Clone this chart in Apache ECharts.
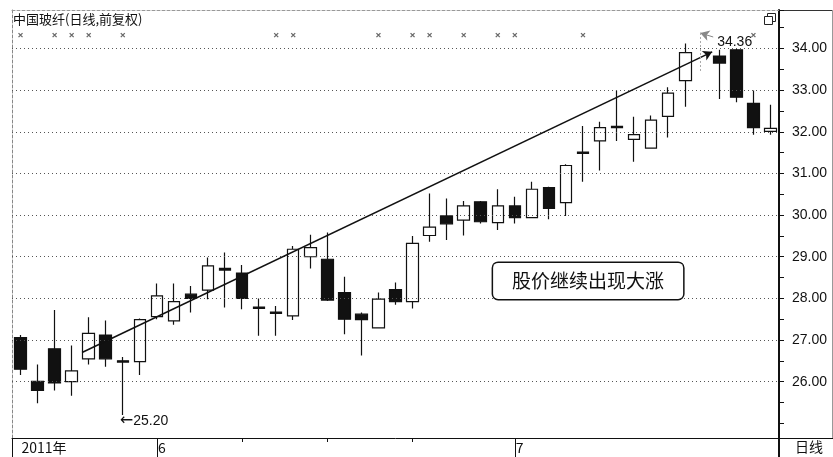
<!DOCTYPE html>
<html><head><meta charset="utf-8">
<script src="https://cdn.jsdelivr.net/npm/echarts@6/dist/echarts.min.js"></script>
<style>html,body{margin:0;padding:0;background:#fff}#c{width:833px;height:457px}</style>
</head><body><div id="c"></div>
<script>
// ---- data ----
const dates = ['05-20','05-23','05-24','05-25','05-26','05-27','05-30','05-31',
  '06-01','06-02','06-03','06-07','06-08','06-09','06-10','06-13','06-14','06-15','06-16','06-17',
  '06-20','06-21','06-22','06-23','06-24','06-27','06-28','06-29','06-30',
  '07-01','07-04','07-05','07-06','07-07','07-08','07-11','07-12','07-13','07-14','07-15',
  '07-18','07-19','07-20','07-21','07-22'];
const opens  = [27.06,26.01,26.79,26.00,26.55,27.12,26.50,26.48, 27.56,27.46,28.10,28.20,28.72,28.61,27.79,27.67,27.58,29.00,28.94,28.14,27.62,27.29,28.21,27.92,29.51,29.98,29.88,30.32,29.82, 30.22,29.94,30.66,30.30,31.51,31.78,32.13,31.82,31.61,32.37,33.23,'-',33.82,33.97,32.68,32.01];
const closes = [26.30,25.79,25.97,26.26,27.16,26.55,26.47,27.49, 28.06,27.92,28.00,28.78,28.68,28.00,27.76,27.64,29.18,29.22,27.96,27.50,27.49,27.98,27.92,29.32,29.71,29.79,30.22,29.84,30.22, 29.94,30.62,30.16,31.19,31.48,32.10,32.10,31.93,32.28,32.93,33.90,'-',33.65,32.83,32.10,32.08];
const lows   = [26.16,25.48,25.79,25.66,26.41,26.36,25.20,26.16, 27.50,27.37,27.66,27.98,27.78,27.74,27.10,27.10,27.48,28.72,27.94,27.14,26.63,27.28,27.85,27.76,29.36,29.40,29.51,29.80,29.64, 29.80,29.93,29.90,29.98,30.80,31.07,31.78,31.28,31.60,31.86,32.60,'-',32.79,32.71,31.93,31.93];
const highs  = [27.12,26.41,27.72,26.87,27.55,27.47,26.59,27.52, 28.36,28.36,28.30,28.98,29.10,28.80,28.00,27.82,29.26,29.53,29.58,28.52,27.66,28.14,28.38,29.50,30.52,30.40,30.34,30.34,30.62, 30.44,30.80,30.68,31.22,32.14,32.24,32.99,32.36,32.39,33.07,34.12,'-',33.97,33.99,32.99,32.65];
const yTicks = [26,27,28,29,30,31,32,33,34];
const monthLabels = {0:'2011年', 8:'6', 29:'7'};
const weekTickIdx = [13,18,23];
const markerIdx = [0,2,3,4,6,15,16,21,23,24,26,28,29,33,43];
const markerLevel = 34.32;
const lowText = '25.20', lowIdx = 6, lowValue = 25.20;
const highLabel = '34.36';
const noteText = '股价继续出现大涨';
const trendStart = [3.61, 26.70], trendEnd = [40.58, 33.92];

// ---- chart ----
const FONT = '"Liberation Sans", Arial, sans-serif';
const CJK = '"Noto Sans CJK SC", "Noto Sans", sans-serif';
const Y_MIN = 24.648, Y_MAX = 34.924;
const candleData = opens.map((o,i)=> o==='-' ? '-' : [o, closes[i], lows[i], highs[i]]);
const chart = echarts.init(document.getElementById('c'));
const X_PATH = 'path://M0,0L10,10M10,0L0,10';
const option = {
  animation:false,
  backgroundColor:'#fff',
  title:{text:'中国玻纤(日线,前复权)', left:13, top:13, padding:0,
    textStyle:{fontFamily:CJK, fontSize:13, fontWeight:'normal', color:'#111'}},
  grid:{left:12, right:54, top:10, bottom:19},
  xAxis:[
    {type:'category', data:dates, position:'bottom', boundaryGap:true,
     axisLine:{show:true, onZero:false, lineStyle:{color:'#111', width:1}},
     axisTick:{show:true, alignWithLabel:true, length:19, interval:(i)=> (i in monthLabels) && i>0, lineStyle:{color:'#111'}},
     axisLabel:{show:true, interval:(i)=> (i in monthLabels), formatter:(v,i)=> monthLabels[i]||'',
       align:'left', margin:3, fontFamily:CJK, fontSize:14, color:'#111', padding:[0,0,0,1]},
     splitLine:{show:false}},
    {type:'value', min:-0.5, max:44.5, position:'top',
     axisLine:{show:true, onZero:false, lineStyle:{color:'#999', type:[3,2]}},
     axisTick:{show:false}, axisLabel:{show:false}, splitLine:{show:false}},
    {type:'category', data:dates, position:'bottom', boundaryGap:true,
     axisLine:{show:false, onZero:false},
     axisTick:{show:true, alignWithLabel:true, length:4, interval:(i)=> weekTickIdx.includes(i), lineStyle:{color:'#111'}},
     axisLabel:{show:false}, splitLine:{show:false}}
  ],
  yAxis:[
    {type:'value', position:'right', min:Y_MIN, max:Y_MAX, splitNumber:10,
     axisLine:{show:true, onZero:false, lineStyle:{color:'#111', width:2}},
     axisTick:{show:true, length:5, lineStyle:{color:'#111'}},
     minorTick:{show:true, splitNumber:2, length:5, lineStyle:{color:'#111'}},
     axisLabel:{margin:13, fontFamily:FONT, fontSize:14, color:'#111', showMinLabel:false, showMaxLabel:false,
       formatter:(v)=> yTicks.includes(Math.round(v*100)/100) ? v.toFixed(2) : ''},
     splitLine:{show:false}},
    {type:'value', position:'left', min:Y_MIN, max:Y_MAX,
     axisLine:{show:true, onZero:false, lineStyle:{color:'#888', type:[3,2]}},
     axisTick:{show:false}, axisLabel:{show:false}, splitLine:{show:false}}
  ],
  series:[
    {type:'line', xAxisIndex:0, yAxisIndex:0, data:[], z:1, silent:true,
     markLine:{silent:true, symbol:'none', label:{show:false},
       lineStyle:{color:'#555', type:[1,3], width:1},
       data: yTicks.map(v=>({yAxis:v}))}},
    {type:'candlestick', xAxisIndex:0, yAxisIndex:0, data:candleData, barWidth:12, z:3,
     itemStyle:{color:'#fff', color0:'#111', borderColor:'#111', borderColor0:'#111', borderWidth:1.2},
     markPoint:{silent:true, symbol:'circle', symbolSize:0,
       data:[{coord:[lowIdx, lowValue], value:lowValue,
         label:{show:true, position:'right', distance:0, offset:[-3,6], formatter:'{a|←}{t|'+lowText+'}',
           rich:{a:{fontFamily:'"DejaVu Sans"', fontSize:16, color:'#111'},
                 t:{fontFamily:FONT, fontSize:14, color:'#111'}}}}]}},
    {type:'scatter', xAxisIndex:0, yAxisIndex:0, z:3, silent:true,
     data: markerIdx.map(i=>[i, markerLevel]),
     symbol:X_PATH, symbolSize:4, itemStyle:{color:'#fff', borderColor:'#444', borderWidth:1.3}},
    {type:'scatter', xAxisIndex:1, yAxisIndex:0, z:4, silent:true, data:[],
     markLine:{silent:true, symbol:['none','arrow'], symbolSize:[8,9], label:{show:false},
       data:[
         [{coord:trendStart, lineStyle:{color:'#111', width:1.5, type:'solid'}}, {coord:trendEnd}],
         [{coord:[40.64,34.276], lineStyle:{color:'#888', width:1, type:'solid'}}, {coord:[39.88,34.372]}],
         [{coord:[39.88,34.372], symbol:'none', lineStyle:{color:'#aaa', width:1, type:[2,2]}}, {coord:[39.88,33.436], symbol:'none'}]
       ]},
     markPoint:{silent:true, symbol:'circle', symbolSize:0,
       data:[
         {coord:[33.3, 28.42], value:0,
          label:{show:true, position:'inside', formatter:noteText, fontFamily:CJK, fontSize:19, color:'#111',
            lineHeight:22, backgroundColor:'#fff', borderColor:'#111', borderWidth:1.5, borderRadius:5,
            padding:[7,19,7,19]}},
         {coord:[40.87, 34.16], value:0,
          label:{show:true, position:'right', distance:0, formatter:highLabel, fontFamily:FONT, fontSize:14, color:'#111'}}
       ]}}
  ],
  graphic:[
    {type:'line', shape:{x1:779, y1:438, x2:779, y2:457}, style:{stroke:'#111', lineWidth:2}},
    {type:'line', shape:{x1:779, y1:438.5, x2:833, y2:438.5}, style:{stroke:'#111', lineWidth:1}},
    {type:'line', shape:{x1:779, y1:10.5, x2:833, y2:10.5}, style:{stroke:'#333', lineWidth:1}},
    {type:'line', shape:{x1:12.5, y1:438, x2:12.5, y2:457}, style:{stroke:'#111', lineWidth:1}},
    {type:'line', shape:{x1:832.5, y1:10, x2:832.5, y2:438}, style:{stroke:'#999', lineWidth:1}},
    {type:'text', left:795, top:440, style:{text:'日线', font:'14px "Noto Sans CJK SC"', fill:'#111'}},
    {type:'rect', shape:{x:767.5, y:13.5, width:8, height:8}, style:{fill:'#fff', stroke:'#222', lineWidth:1}},
    {type:'rect', shape:{x:764.5, y:16.5, width:8, height:8}, style:{fill:'#fff', stroke:'#222', lineWidth:1}}
  ]
};
chart.setOption(option);
</script></body></html>
